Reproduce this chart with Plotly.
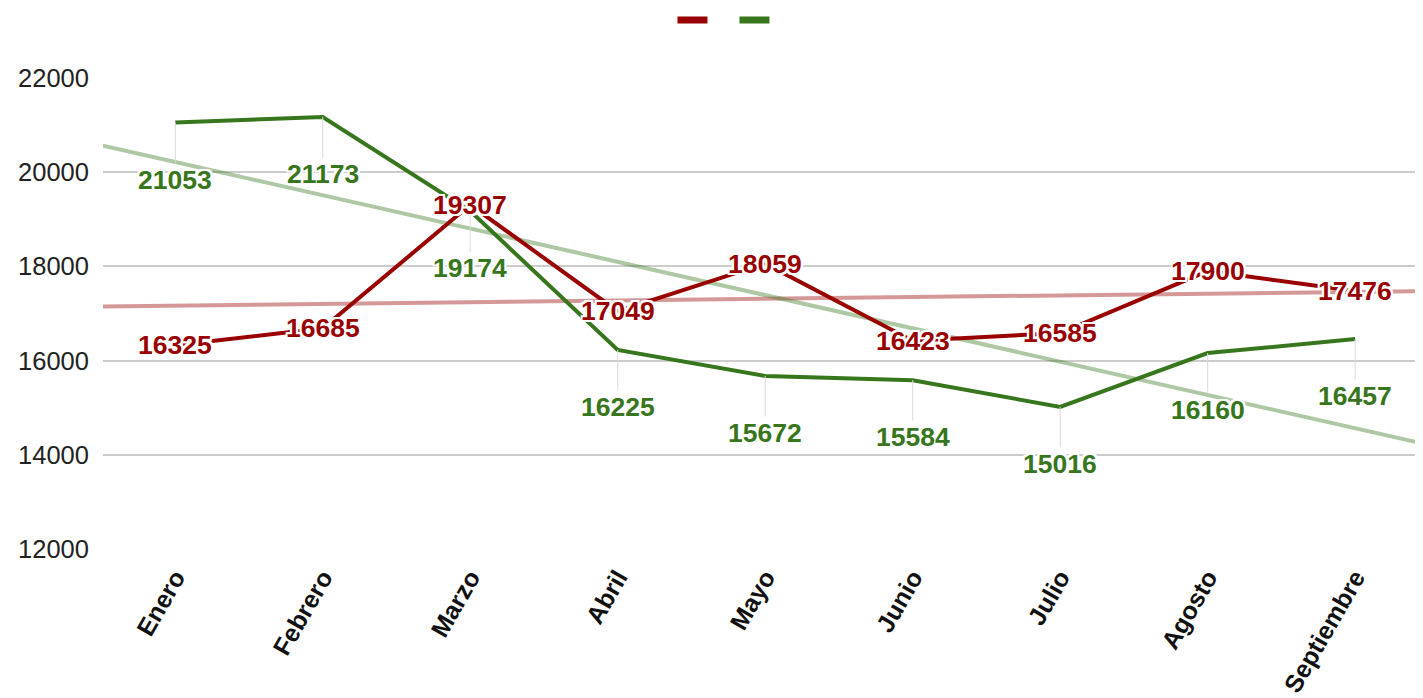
import numpy as np
import plotly.graph_objects as go

months = ["Enero", "Febrero", "Marzo", "Abril", "Mayo", "Junio", "Julio", "Agosto", "Septiembre"]
red_values = [16325, 16685, 19307, 17049, 18059, 16423, 16585, 17900, 17476]
green_values = [21053, 21173, 19174, 16225, 15672, 15584, 15016, 16160, 16457]
y_ticks = [12000, 14000, 16000, 18000, 20000, 22000]

RED = "#990000"
GREEN = "#38761d"
FONT = "Arial, Liberation Sans, sans-serif"
X_RANGE = [-0.49, 8.46]

idx = np.arange(len(months))
halo = ", ".join(f"{dx}px {dy}px 0 #fff" for dx in (-2, 0, 2) for dy in (-2, 0, 2) if (dx, dy) != (0, 0))

fig = go.Figure()

# trend lines
for vals, col in ((red_values, RED), (green_values, GREEN)):
    m, b = np.polyfit(idx, vals, 1)
    xs = np.array(X_RANGE)
    fig.add_trace(go.Scatter(x=xs, y=m * xs + b, mode="lines",
                             line=dict(color=col, width=4), opacity=0.4,
                             showlegend=False, hoverinfo="skip"))

fig.add_trace(go.Scatter(x=idx, y=green_values, mode="lines",
                         line=dict(color=GREEN, width=4), showlegend=False))
fig.add_trace(go.Scatter(x=idx, y=red_values, mode="lines",
                         line=dict(color=RED, width=4), showlegend=False))

# legend swatches
for col in (RED, GREEN):
    fig.add_trace(go.Scatter(x=[None], y=[None], mode="lines", name="",
                             line=dict(color=col, width=7), showlegend=True))

annotations = []
for i, v in enumerate(green_values):
    annotations.append(dict(x=i, y=v, text=str(v), showarrow=True, ax=0, ay=57,
                            arrowhead=0, arrowwidth=1, arrowcolor="#d9d9d9",
                            font=dict(family=FONT, size=26.5, color=GREEN, weight="bold", shadow=halo)))
for i, v in enumerate(red_values):
    annotations.append(dict(x=i, y=v, text=str(v), showarrow=False,
                            font=dict(family=FONT, size=26.5, color=RED, weight="bold", shadow=halo)))

fig.update_layout(
    width=1415, height=690,
    margin=dict(l=95, r=0, t=70, b=149, autoexpand=False),
    plot_bgcolor="white", paper_bgcolor="white",
    font=dict(family=FONT, size=25, color="#222222"),
    annotations=annotations,
    legend=dict(orientation="h", x=0.5134, xanchor="center", xref="container",
                y=1.123, yanchor="middle", yref="paper",
                entrywidth=17, entrywidthmode="pixels", font=dict(size=12)),
    xaxis=dict(range=X_RANGE, tickvals=list(idx), ticktext=months, tickangle=-60,
               tickfont=dict(family=FONT, size=25, color="#111111", weight="bold"),
               showgrid=False, zeroline=False, showline=False, ticks="", automargin=False,
               ticklabelstandoff=8),
    yaxis=dict(range=[12000, 22000], tickvals=y_ticks, tickformat="d", showgrid=True,
               gridcolor="#cccccc", gridwidth=1.5, zeroline=False, showline=False,
               ticks="", ticklabelstandoff=13, automargin=False,
               tickfont=dict(family=FONT, size=25.5, color="#222222")),
)

fig.write_html("out.html")
